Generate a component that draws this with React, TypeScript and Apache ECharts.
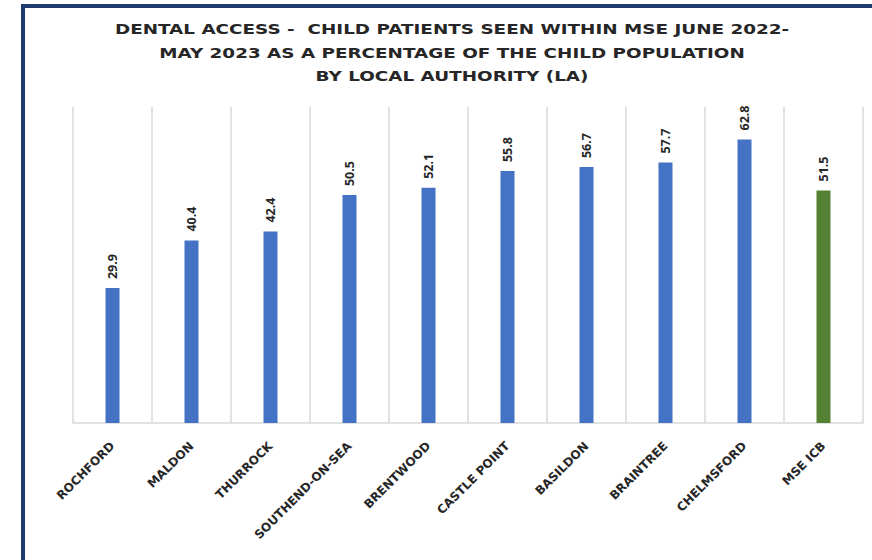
import React, { useEffect, useRef } from "react";
import * as echarts from "echarts";

const categories = [
  "ROCHFORD",
  "MALDON",
  "THURROCK",
  "SOUTHEND-ON-SEA",
  "BRENTWOOD",
  "CASTLE POINT",
  "BASILDON",
  "BRAINTREE",
  "CHELMSFORD",
  "MSE ICB",
];
const values = [29.9, 40.4, 42.4, 50.5, 52.1, 55.8, 56.7, 57.7, 62.8, 51.5];
const barColors = [
  "#4472C4",
  "#4472C4",
  "#4472C4",
  "#4472C4",
  "#4472C4",
  "#4472C4",
  "#4472C4",
  "#4472C4",
  "#4472C4",
  "#548235",
];
const titleText =
  "DENTAL ACCESS -  CHILD PATIENTS SEEN WITHIN MSE JUNE 2022-\nMAY 2023 AS A PERCENTAGE OF THE CHILD POPULATION\nBY LOCAL AUTHORITY (LA)";

export default function App() {
  const ref = useRef<HTMLDivElement>(null);
  useEffect(() => {
    if (!ref.current) return;
    const chart = echarts.init(ref.current, null, { renderer: "svg" });
    chart.setOption({
      animation: false,
      backgroundColor: "#ffffff",
      graphic: [
        {
          type: "polyline",
          shape: { points: [[23, 560], [23, 6], [872, 6]] },
          style: { stroke: "#1F3A6E", lineWidth: 4, fill: "none" },
          silent: true,
        },
        {
          type: "text",
          x: 452,
          y: 18,
          scaleX: 1.36,
          silent: true,
          style: {
            text: titleText,
            textAlign: "center",
            textVerticalAlign: "top",
            fontFamily: "DejaVu Sans",
            fontWeight: "bold",
            fontSize: 13.5,
            lineHeight: 23.5,
            fill: "#262626",
          },
        },
      ],
      grid: { left: 73, right: 9, top: 107, bottom: 137, containLabel: false },
      xAxis: {
        type: "category",
        data: categories,
        axisLine: { show: true, lineStyle: { color: "#D9D9D9", width: 1.5 } },
        axisTick: { show: false },
        splitLine: { show: true, lineStyle: { color: "#D9D9D9", width: 1.5 } },
        axisLabel: {
          rotate: 45,
          margin: 21,
          interval: 0,
          fontFamily: "DejaVu Sans",
          fontWeight: "bold",
          fontSize: 12,
          color: "#262626",
        },
      },
      yAxis: {
        type: "value",
        min: 0,
        max: 70,
        show: false,
        splitLine: { show: false },
      },
      series: [
        {
          type: "bar",
          barWidth: 14,
          data: values.map((v, i) => ({ value: v, itemStyle: { color: barColors[i] } })),
          label: {
            show: true,
            position: "top",
            rotate: 90,
            align: "left",
            verticalAlign: "middle",
            distance: 9,
            fontFamily: "Open Sans",
            fontWeight: "bold",
            fontSize: 12.5,
            color: "#262626",
          },
        },
      ],
    });
    return () => chart.dispose();
  }, []);
  return (
    <div
      ref={ref}
      style={{ position: "fixed", left: 0, top: 0, width: 872, height: 560 }}
    />
  );
}
